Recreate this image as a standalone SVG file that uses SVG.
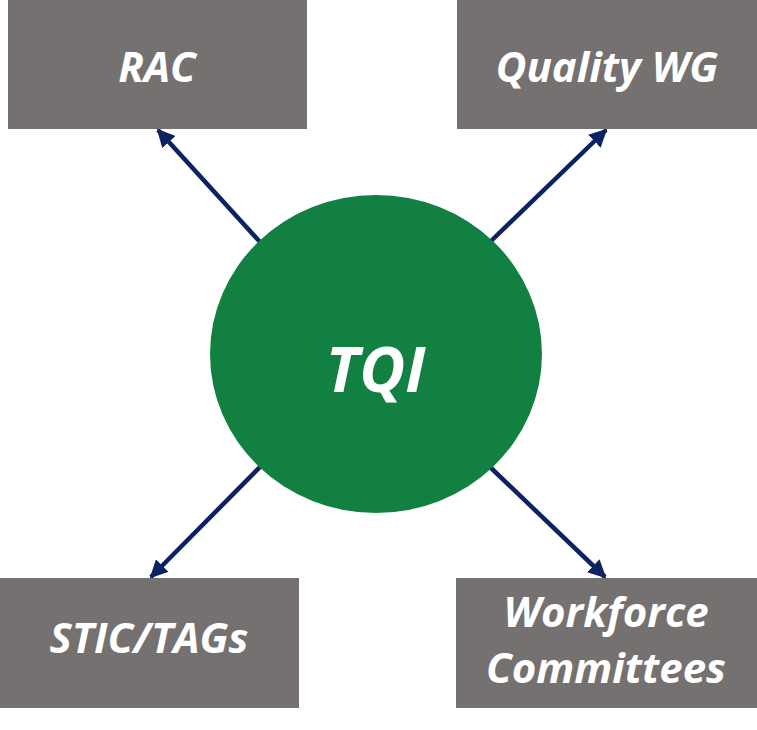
<svg xmlns="http://www.w3.org/2000/svg" width="757" height="730" viewBox="0 0 757 730">
<style>
.box{fill:#767171}
.lbl{font-family:"Open Sans","Liberation Sans",sans-serif;font-weight:bold;font-style:italic;fill:#ffffff;text-anchor:middle;font-size:42px}
.con{stroke:#0b2263;stroke-width:4.5;fill:none;marker-end:url(#ah)}
</style>
<defs>
<marker id="ah" viewBox="0 0 10 10" refX="9" refY="5" markerWidth="4" markerHeight="4" orient="auto" markerUnits="strokeWidth">
<path d="M0,0 L10,5 L0,10 z" fill="#0b2263"/>
</marker>
</defs>
<rect width="757" height="730" fill="#ffffff"/>
<g id="connectors">
<line class="con" x1="260" y1="242" x2="158" y2="130"/>
<line class="con" x1="490" y1="242" x2="606" y2="130"/>
<line class="con" x1="260" y1="467" x2="151" y2="577"/>
<line class="con" x1="490" y1="467" x2="605" y2="577"/>
</g>
<g id="tqi">
<ellipse cx="376" cy="354" rx="166" ry="159" fill="#118040"/>
<text class="lbl" x="375.5" y="392" style="font-size:63px">TQI</text>
</g>
<g id="rac">
<rect class="box" x="8" y="0" width="299" height="129"/>
<text class="lbl" x="157" y="82">RAC</text>
</g>
<g id="quality-wg">
<rect class="box" x="457" y="0" width="300" height="129"/>
<text class="lbl" x="607" y="82">Quality WG</text>
</g>
<g id="stic-tags">
<rect class="box" x="0" y="578" width="299" height="130"/>
<text class="lbl" x="149" y="653">STIC/TAGs</text>
</g>
<g id="workforce">
<rect class="box" x="456" y="578" width="301" height="130"/>
<text class="lbl" x="606" y="627">Workforce</text>
<text class="lbl" x="606" y="683">Committees</text>
</g>
</svg>
